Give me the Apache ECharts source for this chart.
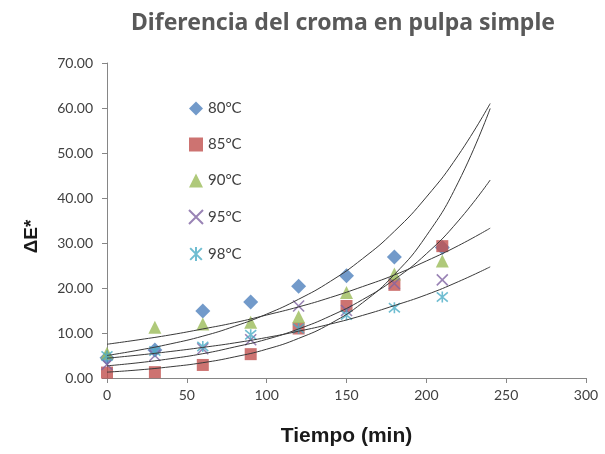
<!DOCTYPE html>
<html>
<head>
<meta charset="utf-8">
<script src="https://cdn.jsdelivr.net/npm/echarts@6/dist/echarts.min.js"></script>
<style>html,body{margin:0;padding:0;background:#fff}#c{width:605px;height:454px}</style>
</head>
<body>
<div id="c"></div>
<script>
// Measurement times (min)
var times = [0, 30, 60, 90, 120, 150, 180, 210];
// Observed ΔE* values per temperature
var s80 = [4.5, 6.2, 14.9, 16.9, 20.4, 22.7, 26.9, 29.0];
var s85 = [1.2, 1.3, 2.9, 5.3, 11.0, 16.0, 20.7, 29.3];
var s90 = [5.5, 11.3, 12.0, 12.4, 13.6, 19.0, 23.1, 26.0];
var s95 = [3.0, 5.0, 6.5, 8.5, 16.0, 15.0, 21.0, 21.8];
var s98 = [4.9, 6.0, 7.0, 9.6, 11.0, 14.0, 15.6, 18.0];
// Trend curves at these times
var trendTimes = [0, 20, 40, 60, 80, 100, 120, 140, 160, 180, 200, 220, 240];
var trendA = [5.0, 6.2, 7.6, 9.3, 11.5, 14.2, 17.5, 21.5, 26.5, 32.6, 40.2, 49.5, 61.0];
var trendB = [1.3, 1.8, 2.5, 3.4, 4.7, 6.4, 8.8, 12.1, 16.7, 23.0, 31.6, 43.5, 59.9];
var trendC = [2.7, 3.4, 4.3, 5.4, 6.9, 8.6, 10.9, 13.8, 17.4, 21.9, 27.6, 34.9, 44.0];
var trendD = [7.5, 8.5, 9.6, 10.9, 12.3, 14.0, 15.8, 17.9, 20.3, 22.9, 26.0, 29.4, 33.3];
var trendE = [4.4, 5.1, 5.9, 6.8, 7.8, 9.0, 10.4, 12.0, 13.9, 16.1, 18.5, 21.4, 24.7];
var names = ['80°C', '85°C', '90°C', '95°C', '98°C'];
var yTicks = [0, 10, 20, 30, 40, 50, 60, 70];

function pairs(xs, ys) { return xs.map(function (x, i) { return [x, ys[i]]; }); }

var chart = echarts.init(document.getElementById('c'));
var xPath = 'path://M0,0L10,10M10,0L0,10';
var starPath = 'path://M0,0L10,10M10,0L0,10M5,-1L5,11';

var scatterDefs = [
  { name: names[0], data: s80, symbol: 'diamond', size: 15, color: '#4F81BD' },
  { name: names[1], data: s85, symbol: 'rect', size: 12, color: '#C0504D' },
  { name: names[2], data: s90, symbol: 'triangle', size: 13, color: '#9BBB59' },
  { name: names[3], data: s95, symbol: xPath, size: 11, color: '#8064A2', stroke: true },
  { name: names[4], data: s98, symbol: starPath, size: 11, color: '#4BACC6', stroke: true }
];

var series = scatterDefs.map(function (d, i) {
  return {
    type: 'scatter', name: d.name, data: pairs(times, d.data),
    symbol: d.symbol, symbolSize: d.size, z: 2 + i,
    itemStyle: d.stroke ? { color: d.color, borderColor: d.color, borderWidth: 1.6 } : { color: d.color }
  };
});
[trendA, trendB, trendC, trendD, trendE].forEach(function (t) {
  series.push({
    type: 'line', data: pairs(trendTimes, t), smooth: true, symbol: 'none', silent: true, z: 10,
    lineStyle: { color: '#3a3a3a', width: 1 }
  });
});

chart.setOption({
  animation: false,
  backgroundColor: '#fff',
  title: {
    text: 'Diferencia del croma en pulpa simple',
    left: 338, top: 7, textAlign: 'center',
    textStyle: { fontFamily: 'Noto Sans', fontWeight: 'bold', fontSize: 23, color: '#595959' }
  },
  legend: {
    data: names, orient: 'vertical', left: 183, top: 96, itemGap: 21,
    itemWidth: 14, itemHeight: 14,
    textStyle: { fontFamily: 'Lato', fontSize: 15, color: '#404040' }
  },
  grid: { left: 107, right: 19, top: 63, bottom: 76, containLabel: false },
  xAxis: {
    type: 'value', min: 0, max: 300, interval: 50,
    name: 'Tiempo (min)', nameLocation: 'middle', nameGap: 48,
    nameTextStyle: { fontFamily: 'Liberation Sans', fontWeight: 'bold', fontSize: 21, color: '#1a1a1a' },
    axisLine: { lineStyle: { color: '#868686' } },
    axisTick: { show: true, length: 5, lineStyle: { color: '#868686' } },
    axisLabel: { fontFamily: 'Lato', fontSize: 14, color: '#404040', margin: 10 },
    splitLine: { show: false }
  },
  yAxis: {
    type: 'value', min: yTicks[0], max: yTicks[yTicks.length - 1], interval: 10,
    name: 'ΔE*', nameLocation: 'middle', nameGap: 66,
    nameTextStyle: { fontFamily: 'Liberation Sans', fontWeight: 'bold', fontSize: 19, color: '#1a1a1a', padding: [0, 32, 0, 0] },
    axisLine: { show: true, lineStyle: { color: '#868686' } },
    axisTick: { show: true, length: 5, lineStyle: { color: '#868686' } },
    axisLabel: { fontFamily: 'Lato', fontSize: 14, color: '#404040', margin: 14,
      formatter: function (v) { return v.toFixed(2); } },
    splitLine: { show: false }
  },
  series: series
});
</script>
</body>
</html>
